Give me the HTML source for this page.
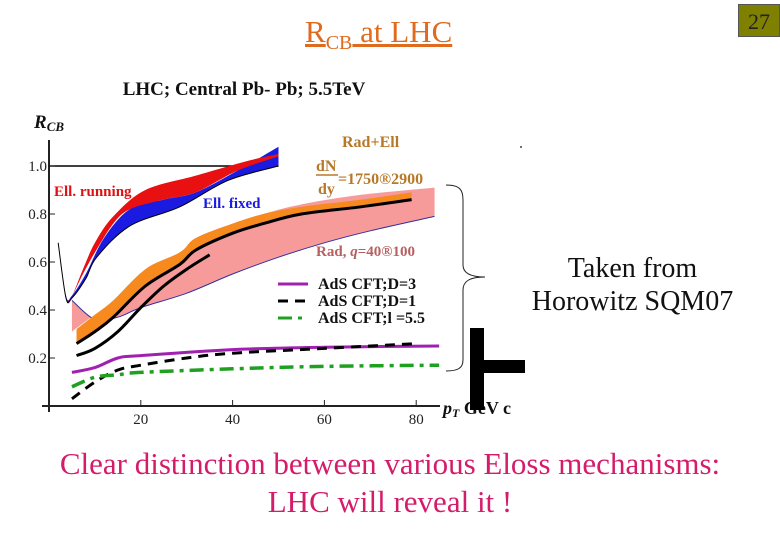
<!DOCTYPE html>
<html><head><meta charset="utf-8">
<style>
body{margin:0;width:780px;height:540px;background:#fff;overflow:hidden;position:relative;font-family:"Liberation Serif",serif}
.abs{position:absolute}
</style></head>
<body>
<div class="abs" style="left:305px;top:13px;font-size:31px;color:#e06a1e;text-decoration:underline;line-height:38px">R<sub style="font-size:20px">CB</sub> at LHC</div>
<div class="abs" style="left:738px;top:4px;width:42px;height:33px;background:#808000;color:#222;font-size:22px;text-align:center;line-height:33px;border:1px solid #555;box-sizing:border-box">27</div>
<div class="abs" style="left:500px;top:252px;width:265px;text-align:center;font-size:28px;line-height:33px;color:#111">Taken from<br>Horowitz SQM07</div>
<div class="abs" style="left:0;top:445px;width:780px;text-align:center;font-size:31px;line-height:38px;color:#d41c6a">Clear distinction between various Eloss mechanisms:<br>LHC will reveal it !</div>
<svg class="abs" style="left:0;top:0" width="780" height="540" id="chart"></svg>
<script>
const NS="http://www.w3.org/2000/svg";
const svg=document.getElementById('chart');
const xTicks=[20,40,60,80];
const yTicks=[0.2,0.4,0.6,0.8,1.0];
const yTickLabels=["0.2","0.4","0.6","0.8","1.0"];
const runTopX=[2,3.7,5,7.4,10,14,21,32,43,50];
const runTopY=[0.68,0.46,0.46,0.57,0.68,0.79,0.90,0.96,1.02,1.05];
const runBotX=[2,3.7,5,7.4,10,14,17.6,25,32,41,50];
const runBotY=[0.68,0.46,0.46,0.55,0.64,0.76,0.82,0.86,0.89,0.98,1.04];
const fixTopX=[2,3.7,5,8,12,17.6,25,32,41,50];
const fixTopY=[0.68,0.46,0.46,0.55,0.7,0.82,0.86,0.89,0.98,1.08];
const fixBotX=[2,3.7,5,8,10.4,17.6,28.5,39,50];
const fixBotY=[0.68,0.45,0.45,0.53,0.62,0.75,0.83,0.94,1.0];
const oraX=[6,10,14,21,28.5,32,40,46.7,55,68,79];
const oraTopY=[0.32,0.38,0.44,0.57,0.64,0.70,0.76,0.80,0.83,0.86,0.89];
const oraBotY=[0.26,0.31,0.37,0.50,0.59,0.65,0.72,0.76,0.80,0.83,0.86];
const blk2X=[6,10,15,20,25,30,35];
const blk2Y=[0.21,0.24,0.31,0.41,0.5,0.57,0.63];
const pinkTopX=[5,10,15,21,28.5,32,40,46.7,55,68,84];
const pinkTopY=[0.31,0.38,0.44,0.57,0.64,0.70,0.76,0.80,0.84,0.88,0.91];
const pinkBotX=[5,10,15,20,30,40,50,60,70,84];
const pinkBotY=[0.44,0.36,0.37,0.41,0.47,0.55,0.62,0.68,0.73,0.79];
const d3X=[5,10,15,20,40,60,85];
const d3Y=[0.14,0.16,0.2,0.21,0.235,0.245,0.25];
const d1X=[5,10,15,20,30,40,60,80];
const d1Y=[0.03,0.1,0.15,0.17,0.2,0.22,0.24,0.26];
const lamX=[5,10,15,20,40,60,85];
const lamY=[0.08,0.12,0.13,0.14,0.155,0.165,0.17];
const X=v=>49+v*4.59, Y=v=>406-v*240;
function el(t,a,name){const e=document.createElementNS(NS,t);for(const k in a)e.setAttribute(k,a[k]);


svg.appendChild(e);return e;}
function pts(xs,ys){return xs.map((x,i)=>[X(x),Y(ys[i])]);}
function smooth(p){let d='M'+p[0][0]+','+p[0][1];for(let i=1;i<p.length;i++){const p0=p[Math.max(i-2,0)],p1=p[i-1],p2=p[i],p3=p[Math.min(i+1,p.length-1)];
d+=' C'+(p1[0]+(p2[0]-p0[0])/6)+','+(p1[1]+(p2[1]-p0[1])/6)+' '+(p2[0]-(p3[0]-p1[0])/6)+','+(p2[1]-(p3[1]-p1[1])/6)+' '+p2[0]+','+p2[1];}return d;}
function band(xs1,ys1,xs2,ys2,fill,name){const a=pts(xs1,ys1),b=pts(xs2,ys2).reverse();
el('path',{d:smooth(a)+' L'+smooth(b).slice(1)+' Z',fill:fill,stroke:'none'},name);}
function line(xs,ys,st,w,dash,name){const a={d:smooth(pts(xs,ys)),fill:'none',stroke:st,'stroke-width':w};if(dash)a['stroke-dasharray']=dash;el('path',a,name);}
el('text',{x:244,y:95,'font-size':19,'font-weight':'bold','text-anchor':'middle',fill:'#111','font-family':'Liberation Serif'},'chart-title').textContent='LHC; Central Pb- Pb; 5.5TeV';
const yl=el('text',{x:34,y:128,'font-size':19,'font-weight':'bold','font-style':'italic',fill:'#111'},'y-axis-title');yl.innerHTML='R<tspan font-size="13" dy="3">CB</tspan>';
el('line',{x1:49,y1:140,x2:49,y2:412,stroke:'#222','stroke-width':2},'y-axis');
el('line',{x1:42,y1:406,x2:440,y2:406,stroke:'#222','stroke-width':2},'x-axis');
el('line',{x1:49,y1:Y(1),x2:X(50),y2:Y(1),stroke:'#000','stroke-width':1.5},'unity-line');
xTicks.forEach(t=>{el('line',{x1:X(t),y1:400,x2:X(t),y2:406,stroke:'#222'},'x-tick');
el('text',{x:X(t),y:424,'font-size':15,'text-anchor':'middle',fill:'#222'},'x-tick-label').textContent=t;});
yTicks.forEach((t,i)=>{el('line',{x1:49,y1:Y(t),x2:55,y2:Y(t),stroke:'#222'},'y-tick');
el('text',{x:47,y:Y(t)+5,'font-size':15,'text-anchor':'end',fill:'#222'},'y-tick-label').textContent=yTickLabels[i];});
const xl=el('text',{x:443,y:414,'font-size':18,'font-weight':'bold','font-style':'italic',fill:'#111'},'x-axis-title');xl.innerHTML='p<tspan font-size="12" dy="3">T</tspan><tspan dy="-3" font-style="normal"> GeV c</tspan>';
band(pinkTopX,pinkTopY,pinkBotX,pinkBotY,'#f79a9a','rad-band');
line(pinkBotX,pinkBotY,'#3030a0',1,null,'rad-band-edge');
band(oraX,oraTopY,oraX,oraBotY,'#f68a1e','radell-band');
line(oraX,oraBotY,'#000',3,null,'radell-black-upper');
line(blk2X,blk2Y,'#000',3,null,'radell-black-lower');
band(fixTopX,fixTopY,fixBotX,fixBotY,'#1a1ae0','ell-fixed-band');
band(runTopX,runTopY,runBotX,runBotY,'#e81010','ell-running-band');
line(fixBotX,fixBotY,'#000',1,null,'ell-edge');
line(d3X,d3Y,'#a020b0',3,null,'ads-d3-line');
line(d1X,d1Y,'#000',3,'10,7','ads-d1-line');
line(lamX,lamY,'#20a020',3.5,'14,6,4,6','ads-lambda-line');
function txt(x,y,s,c,sz,name,anchor){const t=el('text',{x:x,y:y,'font-size':sz||15,'font-weight':'bold',fill:c,'text-anchor':anchor||'start'},name);t.textContent=s;return t;}
txt(54,196,'Ell. running','#e01010',15,'label-ell-running');
txt(203,208,'Ell. fixed','#1a1ae0',15,'label-ell-fixed');
txt(342,147,'Rad+Ell','#b8782a',16,'label-radell');
txt(316,171,'dN','#b8782a',16,'label-dndy-num');
el('line',{x1:316,y1:175,x2:338,y2:175,stroke:'#b8782a','stroke-width':1.5},'dndy-bar');
txt(318,194,'dy','#b8782a',16,'label-dndy-den');
txt(338,184,'=1750®2900','#b8782a',16,'label-dndy-range');
const rl=txt(316,256,'','#b86060',15,'label-rad');rl.innerHTML='Rad, <tspan font-style="italic">q</tspan>=40®100';
[[d3X,'#a020b0',null,'AdS CFT;D=3',289],[d1X,'#000','10,7','AdS CFT;D=1',306],[lamX,'#20a020','14,6,4,6','AdS CFT;l =5.5',323]].forEach((r,i)=>{
const a={x1:278,y1:r[4]-5,x2:308,y2:r[4]-5,stroke:r[1],'stroke-width':3};if(r[2])a['stroke-dasharray']=r[2];el('line',a,'legend-swatch');
txt(318,r[4],r[3],'#111',16,'legend-label');});
el('path',{d:'M446,185 C460,185 463,190 463,200 L463,265 C463,273 470,277 485,277 C470,277 463,281 463,290 L463,360 C463,368 458,371 446,371',fill:'none',stroke:'#222','stroke-width':1},'brace');
el('rect',{x:470,y:328,width:14,height:82,fill:'#000'},'cover-mark-vertical');
el('rect',{x:484,y:360,width:41,height:13,fill:'#000'},'cover-mark-horizontal');
el('circle',{cx:521,cy:147,r:1,fill:'#444'},'dot');
</script>
</body></html>
